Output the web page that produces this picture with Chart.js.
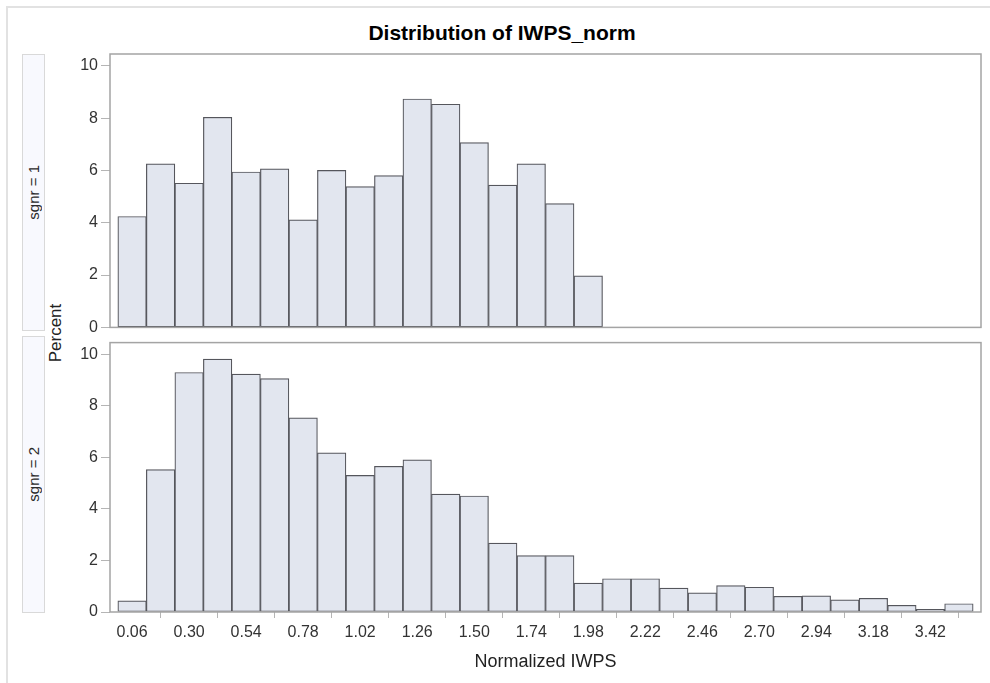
<!DOCTYPE html>
<html>
<head>
<meta charset="utf-8">
<script src="https://cdn.jsdelivr.net/npm/chart.js@4/dist/chart.umd.min.js"></script>
<style>
    body { margin: 0; background: #fff; font-family: "Liberation Sans", Arial, sans-serif; }
    #wrap { position: relative; width: 990px; height: 683px; overflow: hidden; }
    #outer { position: absolute; left: 6px; top: 6px; width: 1000px; height: 700px; border-top: 2px solid #e2e2e2; border-left: 2px solid #e2e2e2; }
    #title { position: absolute; left: 252px; width: 500px; top: 21px; line-height: 24px; text-align: center; font-weight: bold; font-size: 21px; color: #000; }
    .strip { position: absolute; left: 22px; width: 21px; height: 275px; border: 1px solid #d9d9d9; background: #f8f9fe;
             display: flex; align-items: center; justify-content: center; }
    .strip span { writing-mode: vertical-rl; transform: rotate(180deg); font-size: 15px; color: #2a2a2a; white-space: nowrap; }
    #ylab { position: absolute; left: 56px; top: 333px; transform: translate(-50%, -50%) rotate(-90deg); font-size: 17px; color: #222; white-space: nowrap; }
    canvas { position: absolute; left: 0; }
</style>
</head>
<body>
<div id="wrap">
    <div id="outer"></div>
    <div id="title">Distribution of IWPS_norm</div>
    <div class="strip" style="top:54px"><span>sgnr = 1</span></div>
    <div class="strip" style="top:336px"><span>sgnr = 2</span></div>
    <div id="ylab">Percent</div>
    <canvas id="topChart" width="990" height="340" style="top:0"></canvas>
    <canvas id="bottomChart" width="990" height="353" style="top:330px"></canvas>
</div>
<script>
// milieux des classes (largeur 0.12)
const binMids = [0.06, 0.18, 0.30, 0.42, 0.54, 0.66, 0.78, 0.90, 1.02, 1.14,
                 1.26, 1.38, 1.50, 1.62, 1.74, 1.86, 1.98, 2.10, 2.22, 2.34,
                 2.46, 2.58, 2.70, 2.82, 2.94, 3.06, 3.18, 3.30, 3.42, 3.54];

// pourcentages
const sgnr1 = [4.24, 6.25, 5.51, 8.03, 5.94, 6.06, 4.11, 6.00, 5.38, 5.80,
               8.73, 8.53, 7.06, 5.44, 6.25, 4.73, 1.97, 0, 0, 0,
               0, 0, 0, 0, 0, 0, 0, 0, 0, 0];
const sgnr2 = [0.43, 5.52, 9.29, 9.81, 9.23, 9.05, 7.53, 6.17, 5.30, 5.65,
               5.90, 4.57, 4.50, 2.67, 2.19, 2.19, 1.12, 1.29, 1.29, 0.93,
               0.74, 1.02, 0.96, 0.61, 0.63, 0.47, 0.53, 0.26, 0.10, 0.32];

const xTicks = [0.06, 0.30, 0.54, 0.78, 1.02, 1.26, 1.50, 1.74, 1.98, 2.22, 2.46, 2.70, 2.94, 3.18, 3.42];
const yTicks = [0, 2, 4, 6, 8, 10];

const FONT = "'Liberation Sans', Arial, sans-serif";
const TXT = '#333';

// cadre gris autour de la zone de tracé
const framePlugin = {
    id: 'frame',
    afterDraw(chart) {
        const { ctx, chartArea: a } = chart;
        ctx.save();
        ctx.strokeStyle = '#a4a4a4';
        ctx.lineWidth = 1.5;
        ctx.strokeRect(a.left, a.top, a.right - a.left, a.bottom - a.top);
        ctx.restore();
    }
};

function makePanel(canvasId, values, showX) {
    const ctx = document.getElementById(canvasId).getContext('2d');
    return new Chart(ctx, {
        type: 'bar',
        data: {
            datasets: [{
                data: binMids.map((x, i) => ({ x: x, y: values[i] })),
                backgroundColor: '#e2e6ef',
                borderColor: '#55565c',
                borderWidth: 1.2,
                borderSkipped: false,
                barPercentage: 1,
                categoryPercentage: 1
            }]
        },
        options: {
            responsive: false,
            devicePixelRatio: 1,
            animation: false,
            layout: { padding: { left: 60, right: 9, top: showX ? 6 : 54, bottom: showX ? 0 : 10 } },
            plugins: { legend: { display: false }, tooltip: { enabled: false } },
            scales: {
                x: {
                    type: 'linear',
                    min: -0.033,
                    max: 3.633,
                    offset: false,
                    display: showX,
                    afterBuildTicks: (axis) => { axis.ticks = xTicks.map(v => ({ value: v })); },
                    afterFit: (axis) => { if (showX) axis.height = 71; },
                    grid: { drawOnChartArea: false, drawTicks: true, tickLength: 6, color: '#b5b5b5' },
                    border: { display: false },
                    ticks: {
                        padding: 5,
                        maxRotation: 0,
                        autoSkip: false,
                        color: TXT,
                        font: { family: FONT, size: 16 },
                        callback: (v) => v.toFixed(2)
                    },
                    title: {
                        display: true,
                        text: 'Normalized IWPS',
                        color: '#222',
                        font: { family: FONT, size: 18 },
                        padding: { top: 4, bottom: 10 }
                    }
                },
                y: {
                    min: 0,
                    max: 10.45,
                    afterBuildTicks: (axis) => { axis.ticks = yTicks.map(v => ({ value: v })); },
                    afterFit: (axis) => { axis.width = 50; },
                    grid: { drawOnChartArea: false, drawTicks: true, tickLength: 9, color: '#b5b5b5' },
                    border: { display: false },
                    ticks: { padding: 3, color: TXT, font: { family: FONT, size: 16 } }
                }
            }
        },
        plugins: [framePlugin]
    });
}

makePanel('topChart', sgnr1, false);
makePanel('bottomChart', sgnr2, true);
</script>
</body>
</html>
